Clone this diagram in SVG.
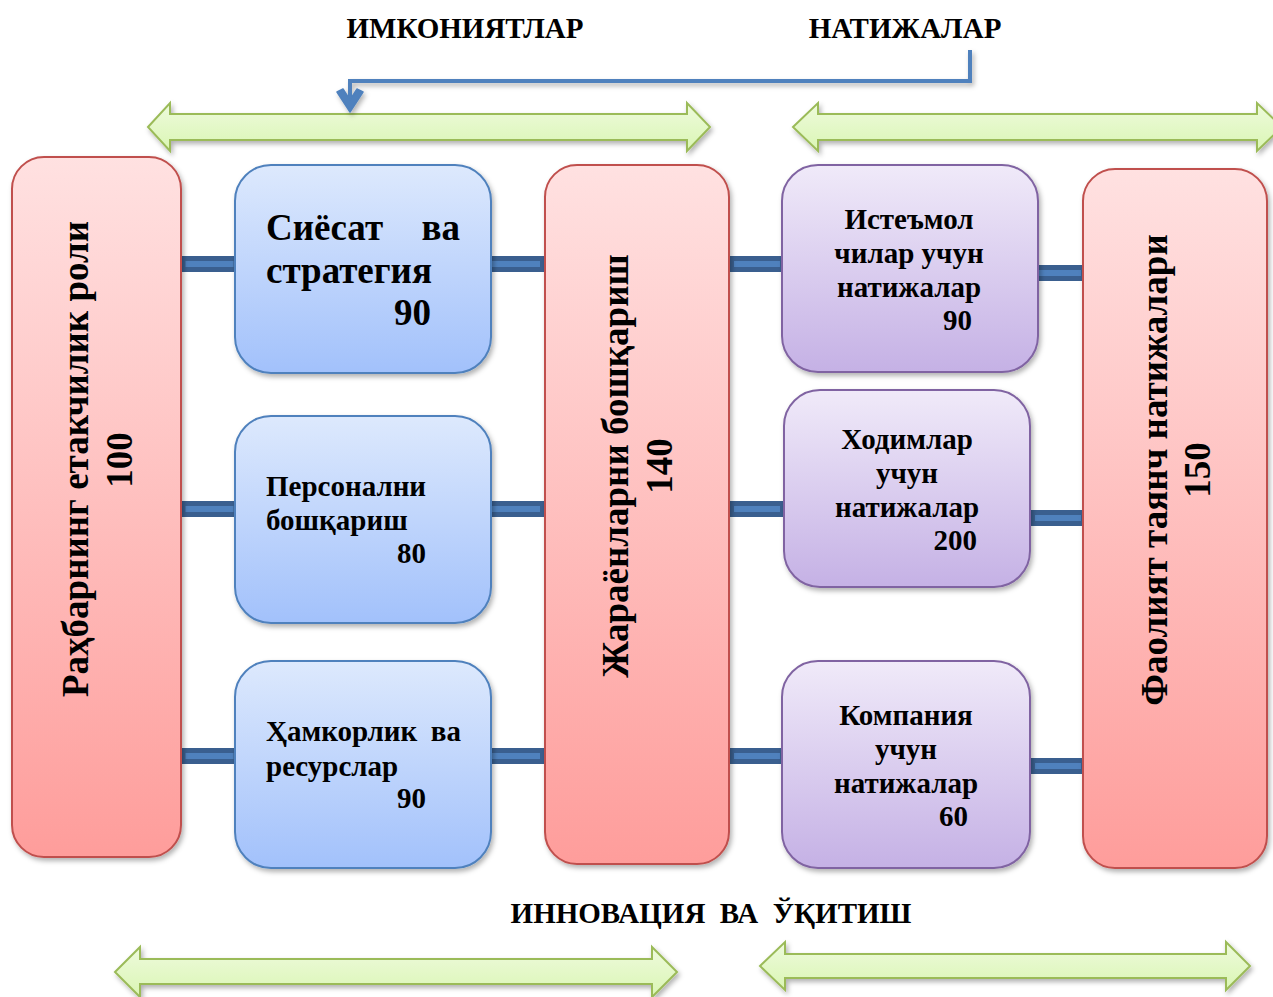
<svg xmlns="http://www.w3.org/2000/svg" width="1273" height="997" viewBox="0 0 1273 997">
  <defs>
    <linearGradient id="gRed" x1="0" y1="0" x2="0" y2="1">
      <stop offset="0" stop-color="#ffe1e1"/>
      <stop offset="1" stop-color="#fe9d9b"/>
    </linearGradient>
    <linearGradient id="gBlue" x1="0" y1="0" x2="0" y2="1">
      <stop offset="0" stop-color="#dde9fd"/>
      <stop offset="1" stop-color="#a2c1fb"/>
    </linearGradient>
    <linearGradient id="gPurple" x1="0" y1="0" x2="0" y2="1">
      <stop offset="0" stop-color="#f0eaf9"/>
      <stop offset="1" stop-color="#c5b1e5"/>
    </linearGradient>
    <linearGradient id="gGreen" x1="0" y1="0" x2="0" y2="1">
      <stop offset="0" stop-color="#eefadc"/>
      <stop offset="1" stop-color="#daf6b4"/>
    </linearGradient>
    <filter id="shadow" x="-10%" y="-10%" width="130%" height="130%">
      <feDropShadow dx="2" dy="3" stdDeviation="2.5" flood-color="#000" flood-opacity="0.3"/>
    </filter>
    <style>
      .t { font-family: "Liberation Serif", "Times New Roman", serif; font-weight: bold; fill: #000; }
      .red { fill: url(#gRed); stroke: #c0504d; stroke-width: 2; filter: url(#shadow); }
      .blue { fill: url(#gBlue); stroke: #4f81bd; stroke-width: 2; filter: url(#shadow); }
      .purple { fill: url(#gPurple); stroke: #8064a2; stroke-width: 2; filter: url(#shadow); }
      .green { fill: url(#gGreen); stroke: #9bbb59; stroke-width: 2; filter: url(#shadow); }
      .bar { fill: #4f81bd; stroke: #3a5f8f; stroke-width: 5; }
      .link { fill: none; stroke: #4f81bd; stroke-width: 4; }
      .head { fill: #4f81bd; stroke: #4f81bd; stroke-width: 1.5; stroke-linejoin: round; }
      .h29 { font-size: 29px; }
      .h37 { font-size: 37px; }
    </style>
  </defs>

  <rect width="1273" height="997" fill="#fff"/>

  <!-- headings -->
  <text class="t h29" x="465" y="38" text-anchor="middle">ИМКОНИЯТЛАР</text>
  <text class="t h29" x="905" y="38" text-anchor="middle">НАТИЖАЛАР</text>
  <text class="t h29" x="711" y="923" text-anchor="middle" xml:space="preserve">ИННОВАЦИЯ  ВА  ЎҚИТИШ</text>

  <!-- wide double arrows -->
  <g id="bands">
    <path class="green" d="M148 127 L170 103 L170 114 L687 114 L687 103 L710 127 L687 151 L687 140 L170 140 L170 151 Z"/>
    <path class="green" d="M793 127 L818 103 L818 114 L1257 114 L1257 103 L1282 127 L1257 151 L1257 140 L818 140 L818 151 Z"/>
    <path class="green" d="M115 972 L140 947 L140 959 L652 959 L652 947 L677 972 L652 997 L652 984 L140 984 L140 997 Z"/>
    <path class="green" d="M760 966 L785 942 L785 954 L1226 954 L1226 942 L1250 966 L1226 990 L1226 978 L785 978 L785 990 Z"/>
  </g>

  <!-- connectors -->
  <g id="connectors">
    <g filter="url(#shadow)">
      <path class="link" d="M970 50 L970 81 L350 81 L350 102"/>
      <path class="head" d="M337 92 L350 112 L363 92 L357 89 L350 100 L343 89 Z"/>
    </g>
    <rect class="bar" x="183" y="258.5" width="53" height="11"/>
    <rect class="bar" x="183" y="503.5" width="53" height="11"/>
    <rect class="bar" x="183" y="750.5" width="53" height="11"/>
    <rect class="bar" x="489.5" y="258.5" width="53" height="11"/>
    <rect class="bar" x="489.5" y="503.5" width="53" height="11"/>
    <rect class="bar" x="489.5" y="750.5" width="53" height="11"/>
    <rect class="bar" x="731.5" y="258.5" width="51" height="11"/>
    <rect class="bar" x="731.5" y="503.5" width="51" height="11"/>
    <rect class="bar" x="731.5" y="750.5" width="51" height="11"/>
    <rect class="bar" x="1032.5" y="267.5" width="51" height="11"/>
    <rect class="bar" x="1032.5" y="512.5" width="51" height="11"/>
    <rect class="bar" x="1032.5" y="760.5" width="51" height="11"/>
  </g>

  <!-- leadership column -->
  <g id="leadership">
    <rect class="red" x="12" y="157" width="169" height="700" rx="32"/>
    <text class="t h37" transform="translate(88 459) rotate(-90)" text-anchor="middle">Раҳбарнинг етакчилик роли</text>
    <text class="t h37" transform="translate(132 460) rotate(-90)" text-anchor="middle">100</text>
  </g>

  <!-- enabler boxes -->
  <g id="policy">
    <rect class="blue" x="235" y="165" width="256" height="208" rx="36"/>
    <text class="t h37" x="266" y="240">Сиёсат</text>
    <text class="t h37" x="460" y="240" text-anchor="end">ва</text>
    <text class="t h37" x="266" y="283">стратегия</text>
    <text class="t h37" x="431" y="325" text-anchor="end">90</text>
  </g>
  <g id="personnel">
    <rect class="blue" x="235" y="416" width="256" height="207" rx="36"/>
    <text class="t h29" x="266" y="496">Персонални</text>
    <text class="t h29" x="266" y="530">бошқариш</text>
    <text class="t h29" x="426" y="563" text-anchor="end">80</text>
  </g>
  <g id="partnership">
    <rect class="blue" x="235" y="661" width="256" height="207" rx="36"/>
    <text class="t h29" x="266" y="741">Ҳамкорлик</text>
    <text class="t h29" x="461" y="741" text-anchor="end">ва</text>
    <text class="t h29" x="266" y="776">ресурслар</text>
    <text class="t h29" x="426" y="808" text-anchor="end">90</text>
  </g>

  <!-- process column -->
  <g id="processes">
    <rect class="red" x="545" y="165" width="184" height="699" rx="32"/>
    <text class="t h37" transform="translate(628 466) rotate(-90)" text-anchor="middle">Жараёнларни бошқариш</text>
    <text class="t h37" transform="translate(672 466) rotate(-90)" text-anchor="middle">140</text>
  </g>

  <!-- result boxes -->
  <g id="customers">
    <rect class="purple" x="782" y="165" width="256" height="207" rx="36"/>
    <text class="t h29" x="909" y="229" text-anchor="middle">Истеъмол</text>
    <text class="t h29" x="909" y="263" text-anchor="middle">чилар учун</text>
    <text class="t h29" x="909" y="297" text-anchor="middle">натижалар</text>
    <text class="t h29" x="972" y="330" text-anchor="end">90</text>
  </g>
  <g id="employees">
    <rect class="purple" x="784" y="390" width="246" height="197" rx="36"/>
    <text class="t h29" x="907" y="449" text-anchor="middle">Ходимлар</text>
    <text class="t h29" x="907" y="483" text-anchor="middle">учун</text>
    <text class="t h29" x="907" y="517" text-anchor="middle">натижалар</text>
    <text class="t h29" x="977" y="550" text-anchor="end">200</text>
  </g>
  <g id="company">
    <rect class="purple" x="782" y="661" width="248" height="207" rx="36"/>
    <text class="t h29" x="906" y="725" text-anchor="middle">Компания</text>
    <text class="t h29" x="906" y="759" text-anchor="middle">учун</text>
    <text class="t h29" x="906" y="793" text-anchor="middle">натижалар</text>
    <text class="t h29" x="968" y="826" text-anchor="end">60</text>
  </g>

  <!-- key performance column -->
  <g id="performance">
    <rect class="red" x="1083" y="169" width="184" height="699" rx="32"/>
    <text class="t h37" transform="translate(1167 470) rotate(-90)" text-anchor="middle">Фаолият таянч натижалари</text>
    <text class="t h37" transform="translate(1210 470) rotate(-90)" text-anchor="middle">150</text>
  </g>
</svg>
